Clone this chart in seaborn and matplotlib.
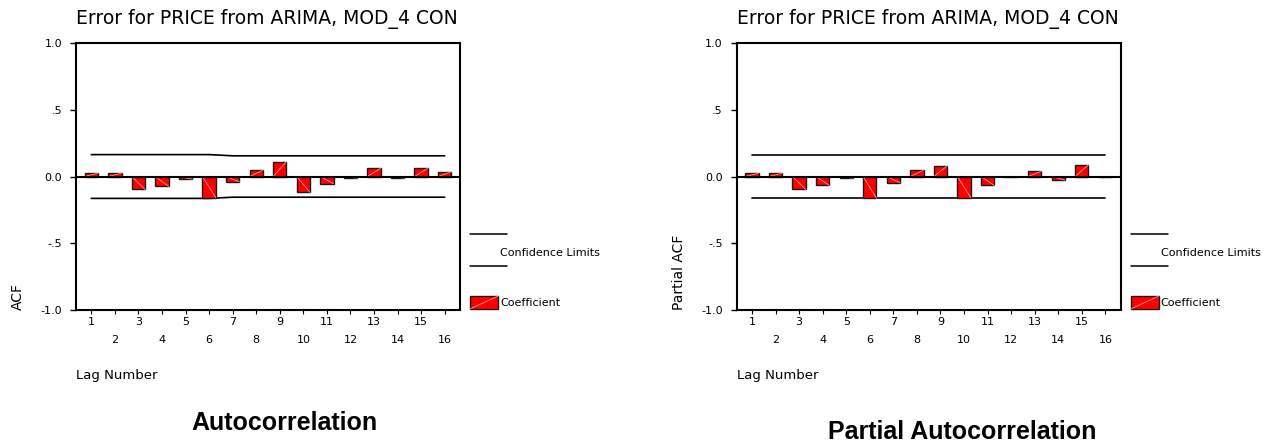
import numpy as np
import matplotlib
matplotlib.use("Agg")
import matplotlib.pyplot as plt
import seaborn as sns
from matplotlib.patches import Rectangle

# -----------------------------------
# DATA
# -----------------------------------
lags = np.arange(1, 17)

acf_values = [0.025, 0.025, -0.097, -0.074, -0.020, -0.158, -0.040, 0.047,
              0.111, -0.119, -0.054, -0.012, 0.062, -0.012, 0.062, 0.035]
acf_limit = [0.164, 0.164, 0.164, 0.164, 0.164, 0.164, 0.155, 0.155,
             0.155, 0.155, 0.155, 0.155, 0.155, 0.155, 0.155, 0.155]

pacf_values = [0.025, 0.025, -0.097, -0.067, -0.012, -0.163, -0.047, 0.047,
               0.079, -0.158, -0.067, -0.005, 0.040, -0.027, 0.087, -0.005]
pacf_limit = [0.164] * 16

title_text = "Error for PRICE from ARIMA, MOD_4 CON"
y_ticks = [1.0, 0.5, 0.0, -0.5, -1.0]
y_tick_labels = ["1.0", ".5", "0.0", "-.5", "-1.0"]

# -----------------------------------
# VISUAL SETTINGS
# -----------------------------------
sns.set_style("ticks")
plt.rcParams["font.family"] = ["DejaVu Sans"]
plt.rcParams["text.color"] = "black"
plt.rcParams["axes.labelcolor"] = "black"
plt.rcParams["xtick.color"] = "black"
plt.rcParams["ytick.color"] = "black"

BAR_W = 0.565
fig = plt.figure(figsize=(12.86, 4.44), dpi=100)

ax_w, ax_h = 384 / 1286, 267 / 444
ax_b = (444 - 310) / 444
ax_acf = fig.add_axes([76 / 1286, ax_b, ax_w, ax_h])
ax_pacf = fig.add_axes([736.7 / 1286, ax_b, ax_w, ax_h])


def draw_panel(ax, values, limit, ylabel):
    sns.barplot(x=lags, y=values, native_scale=True, orient="x", width=BAR_W,
                color="#ff0000", saturation=1, edgecolor="#1a1a1a",
                linewidth=1.0, ax=ax, zorder=3)
    # thin diagonal line inside each bar
    for lag, v in zip(lags, values):
        ax.plot([lag - BAR_W / 2, lag + BAR_W / 2], [0, v], color="#ff9a9a",
                lw=0.6, zorder=4)

    # confidence limits
    sns.lineplot(x=lags, y=limit, color="black", lw=1.2, ax=ax, zorder=2)
    sns.lineplot(x=lags, y=[-l for l in limit], color="black", lw=1.2, ax=ax, zorder=2)
    ax.axhline(0, color="black", lw=1.5, zorder=5)

    ax.set_xlim(0.35, 16.65)
    ax.set_ylim(-1.0, 1.0)

    ax.set_yticks(y_ticks)
    ax.set_yticklabels(y_tick_labels, fontsize=8)
    ax.tick_params(axis="y", length=4, width=1, pad=6, direction="out")

    # staggered lag labels: odd on first row, even on second row
    ax.set_xticks(lags[::2])
    ax.set_xticklabels([str(l) for l in lags[::2]], fontsize=8)
    ax.set_xticks(lags[1::2], minor=True)
    ax.set_xticklabels([str(l) for l in lags[1::2]], minor=True, fontsize=8)
    ax.tick_params(axis="x", which="major", length=3, width=0.8, pad=2)
    ax.tick_params(axis="x", which="minor", length=3, width=0.8, pad=15)

    for sp in ax.spines.values():
        sp.set_visible(True)
        sp.set_linewidth(1.5)
        sp.set_color("black")

    ax.set_title(title_text, loc="left", fontsize=13.5, pad=13.5, color="black")
    ax.set_xlabel("Lag Number", loc="left", fontsize=9.5)
    ax.xaxis.set_label_coords(0.0, -0.222)
    ax.set_ylabel(ylabel, loc="bottom", fontsize=10)
    ax.yaxis.set_label_coords(-0.133, 0.0)

    # legend
    for yy in (0.285, 0.165):
        ax.plot([1.026, 1.122], [yy, yy], color="black", lw=1.1,
                transform=ax.transAxes, clip_on=False)
    ax.text(1.104, 0.213, "Confidence Limits", fontsize=8, va="center",
            ha="left", transform=ax.transAxes)
    ax.add_patch(Rectangle((1.026, 0.004), 0.073, 0.048, facecolor="#ff0000",
                           edgecolor="#1a1a1a", lw=1.0, transform=ax.transAxes,
                           clip_on=False))
    ax.plot([1.026, 1.099], [0.004, 0.052], color="#ff9a9a", lw=0.6,
            transform=ax.transAxes, clip_on=False)
    ax.text(1.104, 0.026, "Coefficient", fontsize=8, va="center",
            ha="left", transform=ax.transAxes)


draw_panel(ax_acf, acf_values, acf_limit, "ACF")
draw_panel(ax_pacf, pacf_values, pacf_limit, "Partial ACF")

fig.text(284 / 1286, 1 - 423 / 444, "Autocorrelation", ha="center", va="center",
         fontsize=18, fontweight="bold", family=["Liberation Sans"], color="black")
fig.text(962 / 1286, 1 - 432 / 444, "Partial Autocorrelation", ha="center",
         va="center", fontsize=18, fontweight="bold", family=["Liberation Sans"],
         color="black")

fig.savefig("out.png", dpi=100, facecolor="white")
